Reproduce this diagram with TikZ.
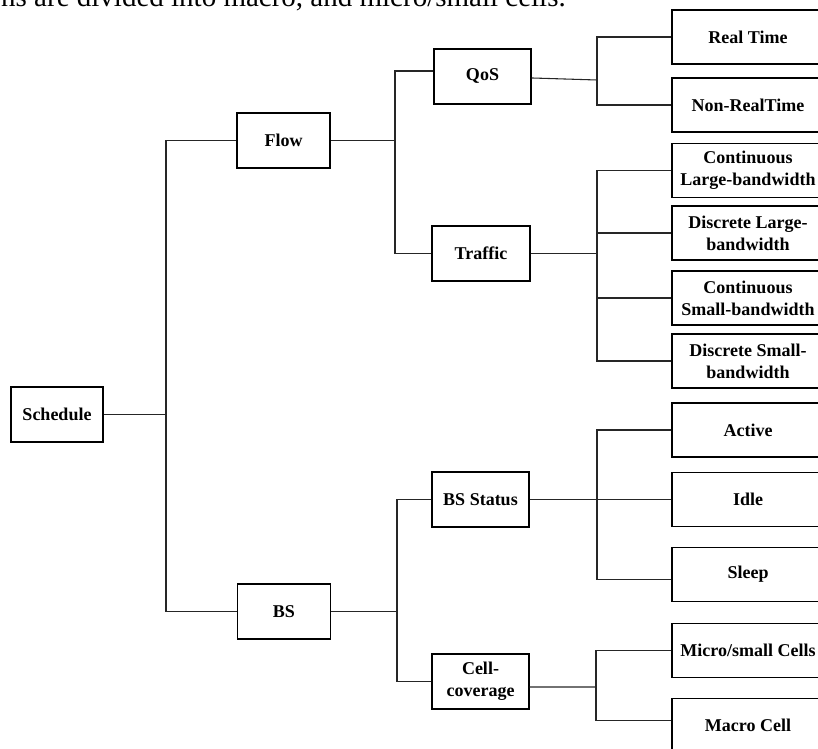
\documentclass[tikz,border=0pt]{standalone}
\usepackage{fontspec}
\setmainfont{Liberation Serif}
\begin{document}
\begin{tikzpicture}[x=0.75pt,y=-0.75pt,
  bx/.style={draw=black,line width=0.8pt,inner sep=0pt,align=center,
    font=\fontsize{13.5pt}{16.5pt}\selectfont\bfseries,minimum height=55*0.75pt},
  w92/.style={minimum width=92*0.75pt},
  w93/.style={minimum width=93*0.75pt},
  w97/.style={minimum width=97*0.75pt},
  wr/.style={minimum width=152*0.75pt,minimum height=54*0.75pt},
  ln/.style={draw=black!85,line width=0.8pt}]
\useasboundingbox (0,0) rectangle (818,749);
\clip (0,0) rectangle (818,749);
% caption fragment (cut off at the top)
\node[anchor=base east,inner sep=0pt,font=\fontsize{21.75pt}{26pt}\selectfont] (cap) at (566,7) {ns are divided into macro, and micro/small cells.};
% boxes
\node[bx,w92] (sched) at (57,414.5) {Schedule};
\node[bx,w93] (flow) at (283.5,140.5) {Flow};
\node[bx,w93] (bs) at (284,611.5) {BS};
\node[bx,w97] (qos) at (482.5,76.5) {QoS};
\node[bx,minimum width=98*0.75pt] (traffic) at (481,253.5) {Traffic};
\node[bx,w97] (bss) at (480.5,499.5) {BS Status};
\node[bx,w97] (cc) at (480.5,681.5) {Cell-\\coverage};
\node[bx,wr] (rt) at (748,37) {Real Time};
\node[bx,wr] (nrt) at (748,105) {Non-RealTime};
\node[bx,wr] (clb) at (748,170.5) {Continuous\\Large-bandwidth};
\node[bx,wr] (dlb) at (748,233) {Discrete Large-\\bandwidth};
\node[bx,wr] (csb) at (748,298) {Continuous\\Small-bandwidth};
\node[bx,wr] (dsb) at (748,361) {Discrete Small-\\bandwidth};
\node[bx,wr] (active) at (748,430) {Active};
\node[bx,wr] (idle) at (748,499.5) {Idle};
\node[bx,wr] (sleep) at (748,574.5) {Sleep};
\node[bx,wr] (micro) at (748,650.5) {Micro/small Cells};
\node[bx,wr] (macro) at (748,725.5) {Macro Cell};
% bus junctions
\coordinate (b1) at (166,414.5);
\coordinate (b2) at (395,140.5);
\coordinate (b3) at (597,80);
\coordinate (b4) at (597,253.5);
\coordinate (b5) at (397,611.5);
\coordinate (b6) at (597,499.5);
\coordinate (b7) at (596,687);
% connectors
\draw[ln] (sched.east) -- (b1);
\draw[ln] (flow.west) -| (b1);
\draw[ln] (bs.west) -| (b1);
\draw[ln] (flow.east) -- (b2);
\draw[ln] ([yshift=4.1pt]qos.west) -| (b2);
\draw[ln] (traffic.west) -| (b2);
\draw[ln] ([yshift=-1.1pt]qos.east) -- (b3);
\draw[ln] (rt.west) -| (b3);
\draw[ln] (nrt.west) -| (b3);
\draw[ln] (traffic.east) -- (b4);
\draw[ln] (clb.west) -| (b4);
\draw[ln] (dlb.west) -| (b4);
\draw[ln] (csb.west) -| (b4);
\draw[ln] (dsb.west) -| (b4);
\draw[ln] (bs.east) -- (b5);
\draw[ln] (bss.west) -| (b5);
\draw[ln] (cc.west) -| (b5);
\draw[ln] (bss.east) -- (b6);
\draw[ln] (active.west) -| (b6);
\draw[ln] (idle.west) -- (b6);
\draw[ln] ([yshift=-3.4pt]sleep.west) -| (b6);
\draw[ln] ([yshift=-4.1pt]cc.east) -- (b7);
\draw[ln] (micro.west) -| (b7);
\draw[ln] ([yshift=4.1pt]macro.west) -| (b7);
\end{tikzpicture}
\end{document}
